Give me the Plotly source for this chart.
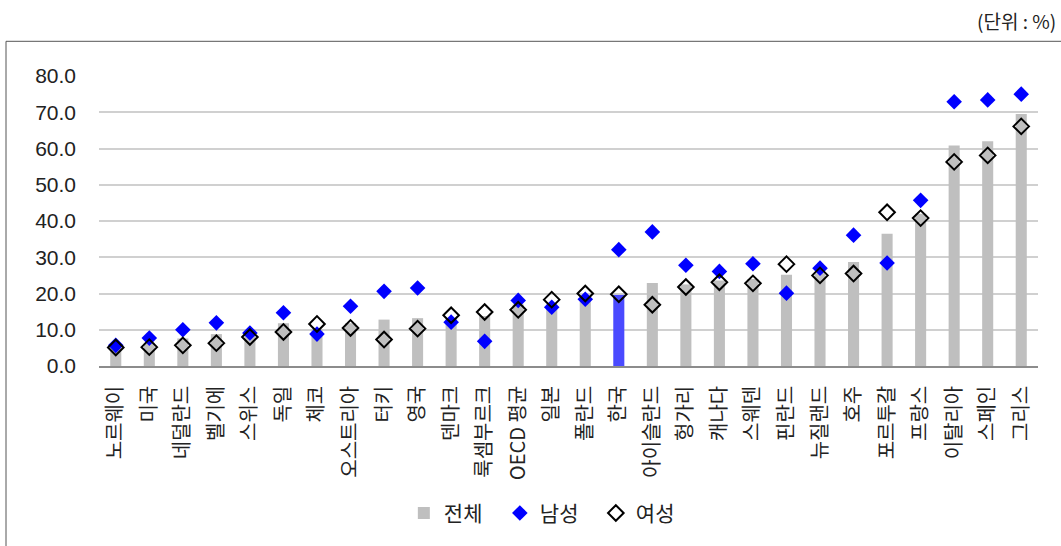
import plotly.graph_objects as go

# 국가별 비율 (단위: %)
countries = ["노르웨이", "미국", "네덜란드", "벨기에", "스위스", "독일", "체코", "오스트리아",
             "터키", "영국", "덴마크", "룩셈부르크", "OECD 평균", "일본", "폴란드", "한국",
             "아이슬란드", "헝가리", "캐나다", "스웨덴", "핀란드", "뉴질랜드", "호주",
             "포르투갈", "프랑스", "이탈리아", "스페인", "그리스"]
total = [5.5, 6.4, 7.6, 8.8, 8.6, 11.8, 10.2, 11.8, 12.8, 13.2, 13.0, 13.8, 17.0, 17.0,
         18.8, 19.6, 22.9, 22.5, 23.6, 24.0, 25.2, 25.6, 28.7, 36.5, 42.0, 60.8, 62.0, 69.5]
male = [5.7, 7.7, 10.0, 11.9, 9.1, 14.7, 8.8, 16.5, 20.6, 21.5, 12.1, 6.8, 18.1, 16.2,
        18.4, 32.1, 37.0, 27.8, 26.1, 28.2, 20.1, 27.0, 36.1, 28.4, 45.7, 72.9, 73.4, 75.0]
female = [5.1, 5.2, 5.7, 6.3, 8.0, 9.4, 11.6, 10.5, 7.3, 10.3, 14.0, 14.9, 15.5, 18.3,
          20.0, 19.8, 16.9, 21.8, 23.1, 22.8, 28.1, 25.0, 25.5, 42.4, 40.8, 56.3, 58.1, 66.1]
y_ticks = [0, 10, 20, 30, 40, 50, 60, 70, 80]

KR_FONT = "Noto Sans CJK KR"
bar_colors = ["#4a4aff" if c == "한국" else "#bfbfbf" for c in countries]

fig = go.Figure()
fig.add_trace(go.Bar(
    x=countries, y=total, name="전체",
    marker=dict(color=bar_colors, line=dict(width=0)),
))
fig.add_trace(go.Scatter(
    x=countries, y=male, name="남성", mode="markers",
    marker=dict(symbol="diamond", size=12, color="#0000ff", line=dict(width=0)),
    cliponaxis=False,
))
fig.add_trace(go.Scatter(
    x=countries, y=female, name="여성", mode="markers",
    marker=dict(symbol="diamond-open", size=12, color="#000000", line=dict(width=2)),
    cliponaxis=False,
))

fig.update_layout(
    width=1061, height=546,
    margin=dict(l=99, r=23, t=76, b=180),
    paper_bgcolor="white", plot_bgcolor="white",
    bargap=0.67,
    showlegend=True,
    legend=dict(
        orientation="h", x=0.478, xanchor="center", y=-0.508, yanchor="middle",
        font=dict(family=KR_FONT, size=21, color="#222222"),
        itemwidth=30, entrywidth=51, entrywidthmode="pixels", traceorder="normal",
    ),
    font=dict(family=KR_FONT, color="#222222"),
)
fig.update_xaxes(
    type="category", tickangle=-90, showgrid=False,
    showline=True, linecolor="#8c8c8c", linewidth=1.5,
    ticks="", ticklabelstandoff=10,
    tickfont=dict(family=KR_FONT, size=20, color="#222222"),
    range=[-0.5, len(countries) - 0.5],
)
fig.update_yaxes(
    range=[0, 80], tickvals=y_ticks, ticktext=[f"{v:.1f}" for v in y_ticks],
    showgrid=True, gridcolor="#d0d0d0", gridwidth=1.5,
    zeroline=False, showline=False, ticks="", ticklabelstandoff=22,
    tickfont=dict(family="Liberation Sans", size=21, color="#222222"),
)

# 바깥 테두리
fig.add_shape(type="rect", xref="paper", yref="paper",
              x0=(6 - 99) / 939, x1=(1064 - 99) / 939,
              y0=(365.7 - 549) / 290, y1=(365.7 - 41) / 290,
              line=dict(color="#555555", width=1), fillcolor="rgba(0,0,0,0)", layer="below")

fig.add_annotation(text="(단위 : %)", xref="paper", yref="paper",
                   x=(1058 - 99) / 939, y=(365.7 - 20) / 290, xanchor="right", yanchor="middle",
                   showarrow=False, font=dict(family=KR_FONT, size=19, color="#222222"))

fig.write_html("out.html")
